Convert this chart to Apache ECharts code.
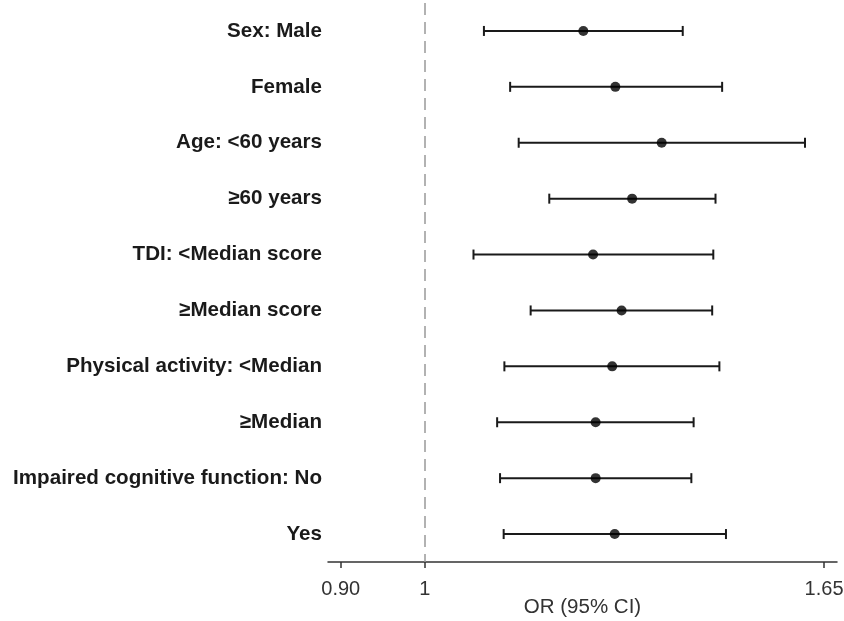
<!DOCTYPE html>
<html>
<head>
<meta charset="utf-8">
<script src="https://cdn.jsdelivr.net/npm/echarts@6/dist/echarts.min.js"></script>
<style>html,body{margin:0;padding:0;background:#fff;}#c{width:844px;height:621px;}</style>
</head>
<body>
<div id="c"></div>
<script>
const categories = ["Sex: Male", "Female", "Age: <60 years", "\u226560 years", "TDI: <Median score", "\u2265Median score", "Physical activity: <Median", "\u2265Median", "Impaired cognitive function: No", "Yes"];
const orValues = [1.220, 1.270, 1.346, 1.297, 1.235, 1.280, 1.265, 1.239, 1.239, 1.269];
const lowerCI = [1.077, 1.113, 1.125, 1.169, 1.063, 1.142, 1.105, 1.095, 1.099, 1.104];
const upperCI = [1.382, 1.452, 1.611, 1.440, 1.436, 1.434, 1.447, 1.401, 1.397, 1.459];
const tickValues = [0.90, 1, 1.65];
const tickLabels = ["0.90", "1", "1.65"];
const refValue = 1;

const chart = echarts.init(document.getElementById('c'));
chart.setOption({
  animation: false,
  grid: {left: 328, right: 7, top: 3, bottom: 59, containLabel: false, outerBoundsMode: 'none'},
  xAxis: {
    type: 'log', logBase: 10, min: 0.8857, max: 1.677,
    name: 'OR (95% CI)', nameLocation: 'middle', nameGap: 35, nameMoveOverlap: false,
    nameTextStyle: {fontFamily: 'Liberation Sans', fontSize: 20.5, color: '#333'},
    axisLine: {show: true, lineStyle: {color: '#333', width: 1.5}},
    axisTick: {show: true, length: 6, lineStyle: {color: '#333', width: 1.5}, customValues: tickValues},
    axisLabel: {show: true, customValues: tickValues, margin: 17, fontFamily: 'Liberation Sans', fontSize: 20, color: '#333',
      formatter: function (v) { const i = tickValues.findIndex(t => Math.abs(t - v) < 1e-6); return i >= 0 ? tickLabels[i] : ''; }},
    splitLine: {show: false}
  },
  yAxis: {
    type: 'category', data: categories, inverse: true,
    axisLine: {show: false}, axisTick: {show: false}, splitLine: {show: false},
    axisLabel: {margin: 6, fontFamily: 'Liberation Sans', fontWeight: 'bold', fontSize: 20.6, color: '#1a1a1a'}
  },
  series: [
    {
      type: 'custom',
      dimensions: ['lower', 'cat', 'upper'],
      data: categories.map((c, i) => [lowerCI[i], i, upperCI[i]]),
      encode: {x: [0, 2], y: 1},
      renderItem: function (params, api) {
        const y = api.value(1);
        const p1 = api.coord([api.value(0), y]);
        const p2 = api.coord([api.value(2), y]);
        const h = 5;
        const style = {stroke: '#1a1a1a', lineWidth: 2};
        return {type: 'group', children: [
          {type: 'line', shape: {x1: p1[0], y1: p1[1], x2: p2[0], y2: p2[1]}, style: style},
          {type: 'line', shape: {x1: p1[0], y1: p1[1] - h, x2: p1[0], y2: p1[1] + h}, style: style},
          {type: 'line', shape: {x1: p2[0], y1: p2[1] - h, x2: p2[0], y2: p2[1] + h}, style: style}
        ]};
      },
      z: 2
    },
    {
      type: 'scatter',
      data: categories.map((c, i) => [orValues[i], i]),
      symbol: 'circle', symbolSize: 10,
      itemStyle: {color: '#000'},
      markLine: {
        silent: true, symbol: 'none', label: {show: false},
        lineStyle: {color: '#999', type: [12, 7], width: 1.5},
        data: [{xAxis: refValue}]
      },
      z: 3
    }
  ]
});
</script>
</body>
</html>
